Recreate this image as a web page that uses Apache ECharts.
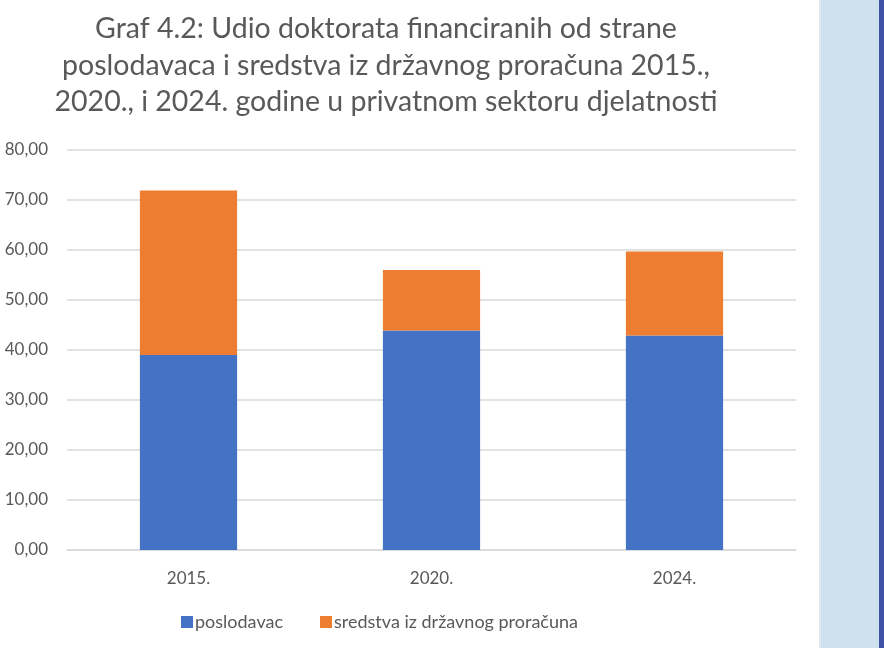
<!DOCTYPE html>
<html>
<head>
<meta charset="utf-8">
<script src="https://cdn.jsdelivr.net/npm/echarts@6/dist/echarts.min.js"></script>
<style>
html,body{margin:0;padding:0;background:#fff;}
#c{width:884px;height:648px;}
</style>
</head>
<body>
<div id="c"></div>
<script>
const categories = ['2015.', '2020.', '2024.'];
const poslodavac = [39.0, 43.9, 42.9];
const proracun = [32.9, 12.1, 16.8];
const seriesNames = ['poslodavac', 'sredstva iz državnog proračuna'];
const titleText = 'Graf 4.2: Udio doktorata financiranih od strane\nposlodavaca i sredstva iz državnog proračuna 2015.,\n2020., i 2024. godine u privatnom sektoru djelatnosti';

const chart = echarts.init(document.getElementById('c'));
chart.setOption({
  backgroundColor: '#ffffff',
  animation: false,
  title: {
    text: titleText,
    left: 381,
    top: 6,
    textAlign: 'center',
    textStyle: {
      fontFamily: 'Lato',
      fontSize: 28.5,
      fontWeight: 'normal',
      color: '#595959',
      lineHeight: 36.5
    }
  },
  graphic: [
    { type: 'rect', shape: { x: 819, y: 0, width: 2, height: 648 }, style: { fill: '#e4e8ec' } },
    { type: 'rect', shape: { x: 821, y: 0, width: 59, height: 648 }, style: { fill: '#cfe1ef' } },
    { type: 'rect', shape: { x: 879, y: 0, width: 5, height: 648 }, style: { fill: '#3f51a6' } }
  ],
  legend: {
    bottom: 12,
    left: 176,
    itemWidth: 12,
    itemHeight: 12,
    itemGap: 37,
    icon: 'rect',
    textStyle: { fontFamily: 'Lato', fontSize: 18, color: '#595959', padding: [0, 0, 0, -3] },
    data: seriesNames
  },
  grid: { left: 67, right: 88, top: 150, bottom: 98, containLabel: false },
  xAxis: {
    type: 'category',
    data: categories,
    axisTick: { show: false },
    axisLine: { lineStyle: { color: '#d9d9d9', width: 1.5 } },
    axisLabel: { fontFamily: 'Lato', fontSize: 17, color: '#595959', margin: 20 }
  },
  yAxis: {
    type: 'value',
    min: 0,
    max: 80,
    interval: 10,
    axisLine: { show: false },
    axisTick: { show: false },
    splitLine: { lineStyle: { color: '#d9d9d9', width: 1.5 } },
    axisLabel: {
      fontFamily: 'Lato', fontSize: 17, color: '#595959', margin: 19,
      formatter: v => v.toFixed(2).replace('.', ',')
    }
  },
  series: [
    { name: seriesNames[0], type: 'bar', stack: 'a', data: poslodavac, barWidth: '40%', itemStyle: { color: '#4472c4' } },
    { name: seriesNames[1], type: 'bar', stack: 'a', data: proracun, barWidth: '40%', itemStyle: { color: '#ed7d31' } }
  ]
});
</script>
</body>
</html>
